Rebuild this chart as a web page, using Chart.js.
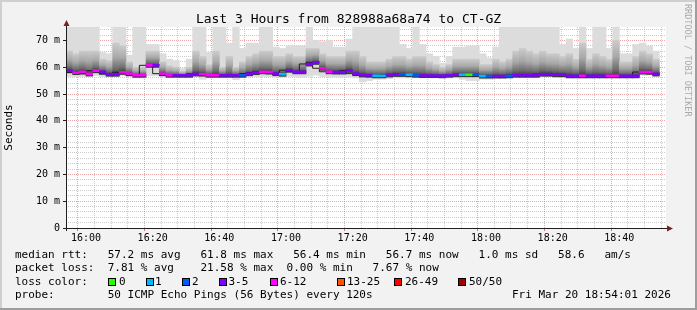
<!DOCTYPE html>
<html>
<head>
<meta charset="utf-8">
<script src="https://cdn.jsdelivr.net/npm/chart.js@4.4.1/dist/chart.umd.min.js"></script>
<style>
  html, body { margin: 0; padding: 0; background: #f2f2f2; }
  #wrap { position: relative; width: 697px; height: 310px; overflow: hidden; }
  #chart { position: absolute; left: 0; top: 0; }
  .txt { position: absolute; font-family: 'DejaVu Sans Mono', monospace; color: #000; white-space: pre; }
  #title { left: 0; width: 697px; top: 11px; font-size: 13px; line-height: 16px; text-align: center; }
  #credit { left: 683px; top: 4px; font-size: 8.5px; line-height: 10px; color: #aaaaaa; writing-mode: vertical-rl; }
  .leg { font-size: 11px; line-height: 14px; }
  .box { position: absolute; width: 6px; height: 6px; border: 1px solid #000; top: 278px; }
</style>
</head>
<body>
<div id="wrap">
  <canvas id="chart" width="697" height="310"></canvas>
  <div class="txt" id="title">Last 3 Hours from 828988a68a74 to CT-GZ</div>
  <div class="txt" id="credit">RRDTOOL / TOBI OETIKER</div>
  <div class="txt leg" style="left:15px;top:248px">median rtt:   57.2 ms avg   61.8 ms max   56.4 ms min   56.7 ms now   1.0 ms sd   58.6   am/s</div>
  <div class="txt leg" style="left:15px;top:261px">packet loss:  7.81 % avg    21.58 % max  0.00 % min   7.67 % now</div>
  <div class="txt leg" style="left:15px;top:275px" id="lossrow">loss color:</div>
  <div class="txt leg" style="left:15px;top:288px">probe:        50 ICMP Echo Pings (56 Bytes) every 120s</div>
  <div class="txt leg" style="left:512px;top:288px">Fri Mar 20 18:54:01 2026</div>
</div>
<script>
// ── Data (2 minute steps from 15:54) ──
const startTime = '15:54';
const stepMinutes = 2;

const median = [
  58.7, 58.0, 58.3, 57.5, 58.7, 58.3, 57.4, 57.4, 58.1, 57.6,
  57.0, 57.0, 60.7, 60.7, 57.6, 57.0, 57.0, 57.0, 57.0, 57.5,
  57.4, 57.0, 57.0, 57.0, 57.0, 57.0, 57.0, 57.6, 58.0, 58.3,
  58.2, 57.6, 57.4, 58.9, 58.3, 58.3, 61.2, 61.8, 59.6, 58.3,
  58.2, 58.2, 58.8, 57.6, 57.1, 57.0, 56.8, 56.8, 57.1, 57.3,
  57.3, 57.2, 57.0, 56.9, 56.9, 56.9, 56.8, 57.0, 57.2, 57.2,
  57.2, 57.2, 56.7, 56.7, 56.7, 56.7, 56.8, 57.0, 57.0, 57.0,
  57.0, 57.4, 57.4, 57.2, 57.2, 56.8, 56.8, 56.8, 56.8, 56.8,
  56.8, 56.8, 56.8, 56.8, 56.8, 56.8, 58.2, 58.2, 57.5
];

// index into lossColors
const lossIdx = [
  3, 4, 4, 4, 4, 3, 3, 3, 4, 4,
  4, 4, 4, 3, 4, 4, 3, 3, 3, 3,
  4, 4, 4, 3, 3, 3, 2, 3, 3, 4,
  4, 3, 1, 3, 3, 3, 3, 3, 4, 4,
  3, 3, 3, 3, 3, 3, 1, 1, 3, 3,
  2, 1, 2, 3, 3, 3, 3, 3, 3, 1,
  0, 2, 1, 2, 3, 3, 2, 3, 3, 3,
  3, 3, 3, 3, 3, 3, 3, 4, 3, 3,
  3, 4, 4, 3, 3, 3, 4, 4, 3
];

// top of the smoke (slowest ping), upper edge of the dense part, bottom of the smoke
const smokeHi = [
  75, 75, 75, 75, 75, 65.5, 65, 75, 75, 64.5,
  75, 75, 68.5, 68.5, 65, 63, 62.5, 59.5, 63, 75,
  75, 65.5, 75, 75, 69, 75, 67, 69, 69, 75,
  75, 67.5, 67, 68, 68, 68, 75, 70, 69.5, 70,
  67.5, 67.5, 70.5, 75, 75, 75, 75, 75, 75, 75,
  68.5, 67, 75, 68.5, 65, 64, 61.5, 64, 67.5, 67.5,
  68, 68, 65, 63.5, 67.5, 75, 75, 75, 75, 75,
  75, 75, 75, 75, 68.5, 70.5, 67, 75, 67, 75,
  75, 67, 75, 65, 65, 68.5, 69, 68, 66
];
const smokeMid = [
  66, 65, 66, 66, 66, 63, 62.5, 69, 68, 62,
  60, 60, 66, 66, 62, 60.5, 60, 58.5, 60, 66,
  64, 61, 66, 60, 64, 60, 62, 64, 65, 66,
  66, 64, 64, 65, 64, 64, 67, 67, 65, 64,
  64, 64, 66, 66, 64, 62, 62, 62, 63, 64,
  64, 63, 64, 64, 62, 61, 60, 61, 63, 63,
  63, 63, 61, 61, 63, 62, 63, 66, 67, 66,
  65, 66, 65, 65, 64, 65, 63, 69, 63, 65,
  64, 63, 70, 62, 62, 64, 66, 65, 63
];
const smokeLo = [
  56.5, 56.5, 56.5, 56.5, 56.8, 56.5, 56.5, 56.5, 56.8, 56.5,
  56.0, 56.0, 56.8, 56.8, 56.5, 56.5, 56.5, 56.5, 56.5, 56.5,
  55.5, 56.0, 56.3, 56.3, 56.3, 55.3, 56.3, 56.5, 56.5, 56.5,
  56.5, 56.3, 56.3, 56.5, 56.3, 56.3, 56.6, 57.0, 56.5, 56.3,
  56.3, 56.3, 56.3, 56.0, 54.5, 55.0, 55.5, 55.5, 55.8, 56.0,
  56.0, 56.0, 56.0, 56.0, 56.0, 56.0, 56.0, 56.0, 56.0, 55.5,
  55.0, 55.0, 55.5, 55.5, 56.0, 56.0, 56.0, 56.3, 56.3, 56.3,
  56.3, 56.5, 56.5, 56.3, 56.3, 56.0, 56.0, 56.0, 56.0, 56.0,
  56.0, 56.0, 56.0, 56.0, 56.0, 56.3, 57.0, 57.0, 56.5
];

const lossColors = ['#26ff00', '#00b8ff', '#0059ff', '#7e00ff', '#ff00ff', '#ff5500', '#ff0000', '#a10000'];
const lossLabels = ['0', '1', '2', '3-5', '6-12', '13-25', '26-49', '50/50'];

const xTickLabels = ['16:00', '16:20', '16:40', '17:00', '17:20', '17:40', '18:00', '18:20', '18:40'];
const yTickLabels = ['0', '10 m', '20 m', '30 m', '40 m', '50 m', '60 m', '70 m'];
const yTickValues = [0, 10, 20, 30, 40, 50, 60, 70];

// ── Helpers ───────────────────────────────────────────────────
const toMin = s => { const [h, m] = s.split(':').map(Number); return h * 60 + m; };
const t0 = toMin(startTime);
const xMin = t0, xMax = t0 + 180;
const stepStarts = median.map((_, i) => t0 + i * stepMinutes);
const stepMid = i => stepStarts[i] + stepMinutes / 2;
const majorX = xTickLabels.map(toMin);
const tickVal = c => (c && c.tick ? c.tick.value : NaN);

// loss colour legend row
const lossBoxX = [108, 145.5, 182, 219, 270, 337, 394, 458];
const lossTextX = [119, 155, 192, 228.5, 280, 347, 405, 469];
const wrap = document.getElementById('wrap');
lossLabels.forEach((lab, i) => {
  const b = document.createElement('div');
  b.className = 'box';
  b.style.left = lossBoxX[i] + 'px';
  b.style.background = lossColors[i];
  wrap.appendChild(b);
  const t = document.createElement('div');
  t.className = 'txt leg';
  t.style.left = lossTextX[i] + 'px';
  t.style.top = '275px';
  t.textContent = lab;
  wrap.appendChild(t);
});

// ── Frame, canvas, axes and arrows ────────────────────────────
const rrdFrame = {
  id: 'rrdFrame',
  beforeDraw(chart) {
    const { ctx, chartArea: a, width, height } = chart;
    ctx.save();
    ctx.fillStyle = '#f2f2f2';
    ctx.fillRect(0, 0, width, height);
    ctx.fillStyle = '#cfcfcf';
    ctx.fillRect(0, 0, width, 2);
    ctx.fillRect(0, 0, 2, height);
    ctx.fillStyle = '#9e9e9e';
    ctx.fillRect(0, height - 2, width, 2);
    ctx.fillRect(width - 2, 0, 2, height);
    ctx.fillStyle = '#ffffff';
    ctx.fillRect(a.left, a.top, a.right - a.left, a.bottom - a.top);
    ctx.restore();
  },
  afterDraw(chart) {
    const { ctx, chartArea: a } = chart;
    ctx.save();
    ctx.strokeStyle = '#1f1f1f';
    ctx.lineWidth = 1;
    ctx.beginPath();
    ctx.moveTo(a.left + 0.5, a.bottom + 3);
    ctx.lineTo(a.left + 0.5, a.top - 4);
    ctx.moveTo(a.left - 3, a.bottom + 0.5);
    ctx.lineTo(a.right + 4, a.bottom + 0.5);
    ctx.stroke();
    ctx.fillStyle = '#801f1f';
    ctx.beginPath();
    ctx.moveTo(a.left + 0.5, a.top - 7);
    ctx.lineTo(a.left - 2.5, a.top - 1);
    ctx.lineTo(a.left + 3.5, a.top - 1);
    ctx.closePath();
    ctx.fill();
    ctx.beginPath();
    ctx.moveTo(a.right + 7, a.bottom + 0.5);
    ctx.lineTo(a.right + 1, a.bottom - 2.5);
    ctx.lineTo(a.right + 1, a.bottom + 3.5);
    ctx.closePath();
    ctx.fill();
    ctx.restore();
  }
};

const smokeGradient = c => {
  const chart = c.chart;
  if (c.type !== 'data' || !chart.chartArea) return '#a0a0a0';
  const i = c.dataIndex;
  const y = chart.scales.y;
  const g = chart.ctx.createLinearGradient(0, y.getPixelForValue(median[i]), 0, y.getPixelForValue(smokeMid[i]));
  g.addColorStop(0, '#3c3c3c');
  g.addColorStop(0.18, '#6e6e6e');
  g.addColorStop(0.55, '#a9a9a9');
  g.addColorStop(1, '#cbcbcb');
  return g;
};

const medianLine = stepStarts.map((t, i) => ({ x: t, y: median[i] }));
medianLine.push({ x: stepStarts[stepStarts.length - 1] + stepMinutes, y: median[median.length - 1] });

const gridMinor = 'rgba(143,143,143,0.45)';
const gridMajor = 'rgba(222,79,79,0.5)';

new Chart(document.getElementById('chart'), {
  type: 'bar',
  data: {
    datasets: [
      {
        label: 'loss',
        data: median.map((m, i) => ({ x: stepMid(i), y: [m - 0.35, m + 0.35] })),
        backgroundColor: lossIdx.map(k => lossColors[k]),
        order: 0
      },
      {
        type: 'line',
        label: 'median',
        data: medianLine,
        stepped: 'after',
        borderColor: '#202020',
        borderWidth: 1,
        pointRadius: 0,
        order: 1
      },
      {
        label: 'smoke core',
        data: median.map((m, i) => ({ x: stepMid(i), y: [m - 0.8, smokeMid[i]] })),
        backgroundColor: smokeGradient,
        order: 2
      },
      {
        label: 'smoke',
        data: median.map((m, i) => ({ x: stepMid(i), y: [smokeLo[i], smokeHi[i]] })),
        backgroundColor: '#dcdcdc',
        order: 3
      }
    ]
  },
  options: {
    responsive: false,
    animation: false,
    devicePixelRatio: 1,
    layout: { padding: { top: 27, right: 31, bottom: 0, left: 0 } },
    datasets: { bar: { barPercentage: 1, categoryPercentage: 1, grouped: false, borderWidth: 0 } },
    plugins: { legend: { display: false }, tooltip: { enabled: false }, title: { display: false } },
    scales: {
      x: {
        type: 'linear',
        min: xMin,
        max: xMax,
        offset: false,
        z: 1,
        afterFit: s => { s.height = 82; },
        afterBuildTicks: s => {
          const t = [];
          for (let v = xMin + 1; v < xMax; v++) if (v % 5 === 0) t.push({ value: v });
          s.ticks = t;
        },
        grid: {
          color: c => majorX.includes(tickVal(c)) ? gridMajor : gridMinor,
          tickColor: c => majorX.includes(tickVal(c)) ? 'rgba(222,79,79,0.8)' : 'rgba(0,0,0,0)',
          tickLength: 3,
          lineWidth: 1
        },
        border: { display: false, dash: [1, 1] },
        ticks: {
          autoSkip: false,
          maxRotation: 0,
          padding: 1,
          color: '#000',
          font: { family: "'DejaVu Sans Mono', monospace", size: 10 },
          callback: v => { const k = majorX.indexOf(v); return k >= 0 ? xTickLabels[k] : ''; }
        }
      },
      y: {
        min: 0,
        max: 75,
        z: 1,
        afterFit: s => { s.width = 66; },
        afterBuildTicks: s => {
          const t = [];
          for (let v = 0; v < 75; v += 2) t.push({ value: v });
          yTickValues.forEach(v => { if (!t.some(o => o.value === v)) t.push({ value: v }); });
          s.ticks = t.sort((p, q) => p.value - q.value);
        },
        grid: {
          color: c => yTickValues.includes(tickVal(c)) ? gridMajor : gridMinor,
          tickColor: c => yTickValues.includes(tickVal(c)) ? '#1f1f1f' : 'rgba(0,0,0,0)',
          tickLength: 3,
          lineWidth: 1
        },
        border: { display: false, dash: [1, 1] },
        title: {
          display: true,
          text: 'Seconds',
          color: '#000',
          padding: { top: 3, bottom: 0 },
          font: { family: "'DejaVu Sans Mono', monospace", size: 11 }
        },
        ticks: {
          autoSkip: false,
          padding: 3,
          color: '#000',
          font: { family: "'DejaVu Sans Mono', monospace", size: 10 },
          callback: v => { const k = yTickValues.indexOf(v); return k >= 0 ? yTickLabels[k] : ''; }
        }
      }
    }
  },
  plugins: [rrdFrame]
});
</script>
</body>
</html>
